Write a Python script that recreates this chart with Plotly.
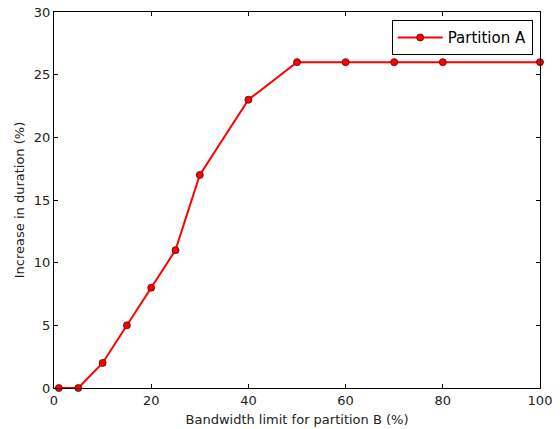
import plotly.graph_objects as go

bandwidth = [1, 5, 10, 15, 20, 25, 30, 40, 50, 60, 70, 80, 100]
increase = [0, 0, 2, 5, 8, 11, 17, 23, 26, 26, 26, 26, 26]
x_ticks = [0, 20, 40, 60, 80, 100]
y_ticks = [0, 5, 10, 15, 20, 25, 30]

fig = go.Figure()
fig.add_trace(go.Scatter(
    x=bandwidth, y=increase, mode="lines+markers", name="Partition A",
    line=dict(color="#ff0000", width=2),
    marker=dict(color="#ff0000", size=7, line=dict(color="#550000", width=0.8)),
    cliponaxis=False,
))

axis_common = dict(
    showgrid=False, zeroline=False, showline=True, linecolor="black", linewidth=1,
    mirror="allticks", ticks="inside", ticklen=4, tickcolor="black",
    automargin=False,
    tickfont=dict(family="DejaVu Sans", size=13, color="#222222"),
)
fig.update_xaxes(range=[0, 100], tickvals=x_ticks,
                 title=dict(text="Bandwidth limit for partition B (%)", standoff=8,
                            font=dict(family="DejaVu Sans", size=13, color="#222222")),
                 **axis_common)
fig.update_yaxes(range=[0, 30], tickvals=y_ticks,
                 title=dict(text="Increase in duration (%)", standoff=6,
                            font=dict(family="DejaVu Sans", size=13, color="#222222")),
                 **axis_common)

fig.update_layout(
    width=560, height=429,
    margin=dict(l=54, r=20, t=12, b=41),
    plot_bgcolor="white", paper_bgcolor="white",
    showlegend=True,
    legend=dict(x=0.985, y=0.978, xanchor="right", yanchor="top",
                bordercolor="black", borderwidth=1, bgcolor="white",
                itemwidth=45,
                font=dict(family="DejaVu Sans", size=15, color="black")),
)

fig.write_html("out.html", config={"displayModeBar": False},
               post_script="document.body.style.margin='0';document.body.style.overflow='hidden';")
